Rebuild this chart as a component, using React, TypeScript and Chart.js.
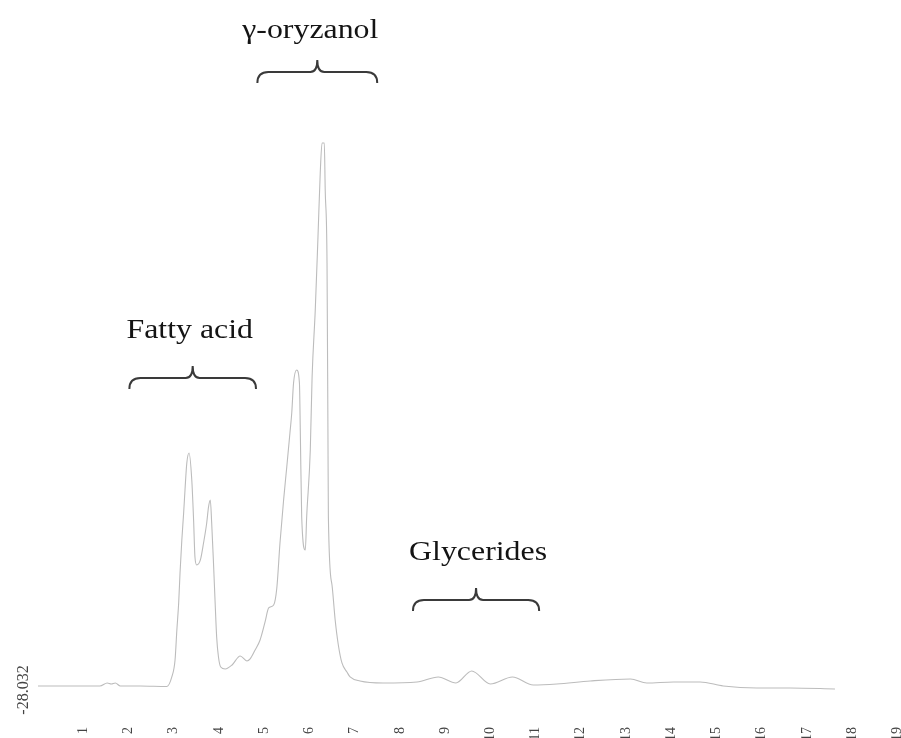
import React, { useEffect, useRef } from 'react';
import { Chart, registerables } from 'chart.js';

Chart.register(...registerables);

// Retention time (min) and detector signal
const retentionTime = [
  0, 0.49, 1.37, 1.53, 1.62, 1.71, 1.82, 2.26, 2.85, 2.96,
  3.03, 3.07, 3.11, 3.14, 3.18, 3.22, 3.25, 3.29, 3.34, 3.40,
  3.44, 3.47, 3.51, 3.59, 3.66, 3.73, 3.77, 3.81, 3.84, 3.88,
  3.92, 3.95, 3.99, 4.04, 4.14, 4.29, 4.47, 4.62, 4.69, 4.80,
  4.91, 5.02, 5.10, 5.21, 5.28, 5.35, 5.43, 5.50, 5.57, 5.61,
  5.65, 5.72, 5.78, 5.80, 5.83, 5.91, 5.94, 6.02, 6.06, 6.13,
  6.19, 6.24, 6.28, 6.33, 6.35, 6.39, 6.41, 6.42, 6.50, 6.57,
  6.64, 6.72, 6.83, 6.90, 7.12, 7.63, 8.38, 8.85, 9.24, 9.59,
  10.0, 10.49, 10.95, 11.47, 12.21, 13.10, 13.46, 14.05, 14.64, 15.15,
  15.89, 16.63, 17.62,
];
const signal = [
  -24, -24, -24, -21, -22, -21, -24, -24, -24.5, -14.7,
  2, 32, 59, 89, 122, 149, 172, 199, 209, 182,
  142, 105, 97, 102, 119, 139, 155, 162, 139, 99,
  55, 25, 5, -5, -7, -3, 6, 1, 3, 12,
  22, 40, 54, 57, 74, 119, 162, 195, 229, 249,
  279, 292, 279, 229, 145, 112, 145, 212, 285, 352,
  425, 489, 519, 519, 472, 399, 232, 145, 77, 42,
  17, -1, -10, -15, -19, -21, -20, -15, -21, -9,
  -22, -15, -23, -22, -19, -17, -21, -20, -20, -24,
  -26, -26, -27,
];

const xTickValues = [1, 2, 3, 4, 5, 6, 7, 8, 9, 10, 11, 12, 13, 14, 15, 16, 17, 18, 19];
const yTickValues = [-28.032];
const yTickLabels = ['-28.032'];

const groupLabels = ['Fatty acid', 'γ-oryzanol', 'Glycerides'];
const groupStart = [2.02, 4.85, 8.29];
const groupEnd = [4.82, 7.5, 11.08];

const braceLayout = [
  { tipY: 366, textY: 338, textDx: -3 },
  { tipY: 60, textY: 38, textDx: -7 },
  { tipY: 588, textY: 560, textDx: 2 },
];

const bracePlugin = {
  id: 'braces',
  afterDraw(chart: any) {
    const ctx = chart.ctx;
    const xs = chart.scales.x;
    ctx.save();
    groupLabels.forEach((label, i) => {
      const x0 = xs.getPixelForValue(groupStart[i]);
      const x1 = xs.getPixelForValue(groupEnd[i]);
      const xc = (x0 + x1) / 2;
      const { tipY, textY, textDx } = braceLayout[i];
      const armY = tipY + 12;
      const endY = tipY + 23;
      const r = 11;
      ctx.beginPath();
      ctx.moveTo(x0, endY);
      ctx.quadraticCurveTo(x0, armY, x0 + r, armY);
      ctx.lineTo(xc - 7, armY);
      ctx.quadraticCurveTo(xc, armY, xc, tipY);
      ctx.quadraticCurveTo(xc, armY, xc + 7, armY);
      ctx.lineTo(x1 - r, armY);
      ctx.quadraticCurveTo(x1, armY, x1, endY);
      ctx.strokeStyle = '#3a3a3a';
      ctx.lineWidth = 2;
      ctx.stroke();

      ctx.save();
      ctx.translate(xc + textDx, textY);
      ctx.scale(1.18, 1);
      ctx.font = '27px "Liberation Serif", "Times New Roman", serif';
      ctx.fillStyle = '#141414';
      ctx.textAlign = 'center';
      ctx.textBaseline = 'alphabetic';
      ctx.fillText(label, 0, 0);
      ctx.restore();
    });
    ctx.restore();
  },
};

export default function App() {
  const canvasRef = useRef<HTMLCanvasElement | null>(null);

  useEffect(() => {
    if (!canvasRef.current) return;
    const points = retentionTime.map((t, i) => ({ x: t, y: signal[i] }));
    const chart = new Chart(canvasRef.current, {
      type: 'line',
      data: {
        datasets: [
          {
            data: points,
            borderColor: '#bcbcbc',
            borderWidth: 1.1,
            pointRadius: 0,
            fill: false,
            cubicInterpolationMode: 'monotone',
          },
        ],
      },
      options: {
        responsive: false,
        animation: false,
        devicePixelRatio: 1,
        layout: { padding: 0 },
        plugins: {
          legend: { display: false },
          tooltip: { enabled: false },
          title: { display: false },
        },
        scales: {
          x: {
            type: 'linear',
            min: 0,
            max: 19.08,
            grid: { display: false, drawTicks: false },
            border: { display: false },
            afterBuildTicks: (scale: any) => {
              scale.ticks = xTickValues.map((v) => ({ value: v }));
            },
            afterFit: (scale: any) => {
              scale.height = 48;
              scale.paddingLeft = 0;
              scale.paddingRight = 0;
            },
            ticks: {
              minRotation: 90,
              maxRotation: 90,
              padding: 37,
              autoSkip: false,
              color: '#444',
              font: { family: '"Liberation Serif", serif', size: 14 },
              callback: (v: any) => String(v),
            },
          },
          y: {
            type: 'linear',
            min: -28.032,
            max: 661.968,
            grid: { display: false, drawTicks: false },
            border: { display: false },
            afterBuildTicks: (scale: any) => {
              scale.ticks = yTickValues.map((v) => ({ value: v }));
            },
            afterFit: (scale: any) => {
              scale.width = 38;
              scale.paddingTop = 0;
              scale.paddingBottom = 0;
            },
            ticks: {
              minRotation: 90,
              maxRotation: 90,
              crossAlign: 'center',
              padding: -10,
              color: '#444',
              font: { family: '"Liberation Serif", serif', size: 16 },
              callback: (_v: any, i: number) => yTickLabels[i],
            },
          },
        },
      },
      plugins: [bracePlugin],
    });
    return () => chart.destroy();
  }, []);

  return (
    <div style={{ position: 'fixed', left: 0, top: 0, width: 901, height: 738, background: '#fff' }}>
      <canvas ref={canvasRef} width={901} height={738} style={{ display: 'block' }} />
    </div>
  );
}
